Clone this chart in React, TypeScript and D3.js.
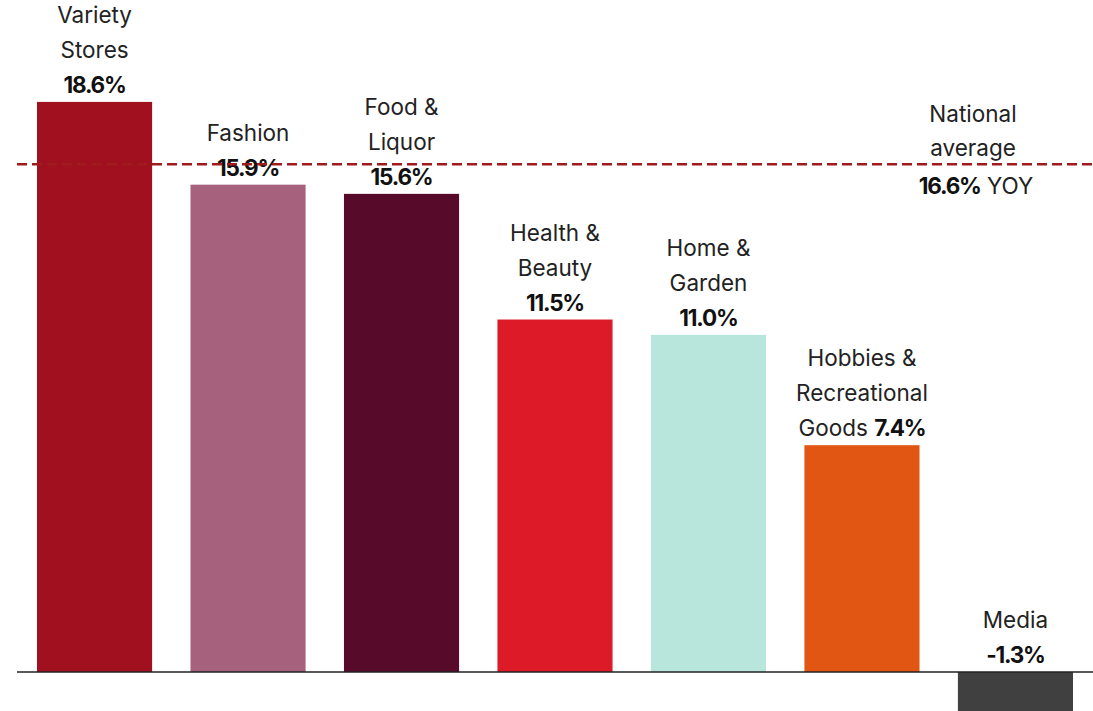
import React from "react";
import * as d3 from "d3";

const categories = ["Variety Stores", "Fashion", "Food & Liquor", "Health & Beauty", "Home & Garden", "Hobbies & Recreational Goods", "Media"];
const values = [18.6, 15.9, 15.6, 11.5, 11.0, 7.4, -1.3];
const labelLines = [["Variety", "Stores"], ["Fashion"], ["Food &", "Liquor"], ["Health &", "Beauty"], ["Home &", "Garden"], ["Hobbies &", "Recreational", "Goods"], ["Media"]];
const colors = ["#a0101e", "#a6627d", "#570a29", "#dc1a28", "#b9e6dc", "#e25613", "#404040"];
const nationalAverage = 16.6;
const averageLines = ["National", "average"];

const W = 1093;
const H = 711;
const FONT = "Inter, Roboto, 'Noto Sans', sans-serif";
const FS = 22.5;
const BOLD_LS = -1.2;

export default function App() {
  const x = d3.scaleBand<string>().domain(categories).range([37, 1073]).paddingInner(0.25).paddingOuter(0);
  const y = d3.scaleLinear().domain([0, 20]).range([672, 59]);
  const fmt = (v: number) => `${v.toFixed(1)}%`;
  const lh = 35;
  const avgY = y(nationalAverage) + 1;

  return (
    <div style={{ position: "absolute", left: 0, top: 0 }}>
      <svg width={W} height={H} style={{ display: "block", background: "#fff" }} fontFamily={FONT}>
        {categories.map((c, i) => {
          const v = values[i];
          const x0 = x(c)!;
          const top = y(Math.max(0, v));
          const bottom = y(Math.min(0, v));
          const cx = x0 + x.bandwidth() / 2;
          const valBase = y(Math.max(0, v)) - 9;
          const lines = labelLines[i];
          const inline = lines.length === 3;
          return (
            <g key={c}>
              <rect x={x0} y={top} width={x.bandwidth()} height={bottom - top} fill={colors[i]} />
              {inline ? (
                <>
                  {lines.slice(0, -1).map((l, j) => (
                    <text key={j} x={cx} y={valBase - (lines.length - 1 - j) * lh} textAnchor="middle" fontSize={FS} fill="#222">{l}</text>
                  ))}
                  <text x={cx} y={valBase} textAnchor="middle" fontSize={FS} fill="#222">
                    {lines[lines.length - 1]} <tspan fontWeight="bold" fill="#111" letterSpacing={BOLD_LS}>{fmt(v)}</tspan>
                  </text>
                </>
              ) : (
                <>
                  {lines.map((l, j) => (
                    <text key={j} x={cx} y={valBase - (lines.length - j) * lh} textAnchor="middle" fontSize={FS} fill="#222">{l}</text>
                  ))}
                  <text x={cx} y={valBase} textAnchor="middle" fontSize={FS} fontWeight="bold" fill="#111" letterSpacing={BOLD_LS}>{fmt(v)}</text>
                </>
              )}
            </g>
          );
        })}
        <line x1={17} x2={W} y1={y(0)} y2={y(0)} stroke="#222" strokeWidth={1.5} />
        <line x1={17} x2={W} y1={avgY} y2={avgY} stroke="#a01c1c" strokeWidth={2.5} strokeDasharray="10 5" />
        {averageLines.map((l, j) => (
          <text key={j} x={973} y={avgY - 42 + j * 34} textAnchor="middle" fontSize={FS} fill="#222">{l}</text>
        ))}
        <text x={976} y={avgY + 30} textAnchor="middle" fontSize={FS} fill="#222">
          <tspan fontWeight="bold" fill="#111" letterSpacing={BOLD_LS}>{fmt(nationalAverage)}</tspan> YOY
        </text>
      </svg>
    </div>
  );
}
